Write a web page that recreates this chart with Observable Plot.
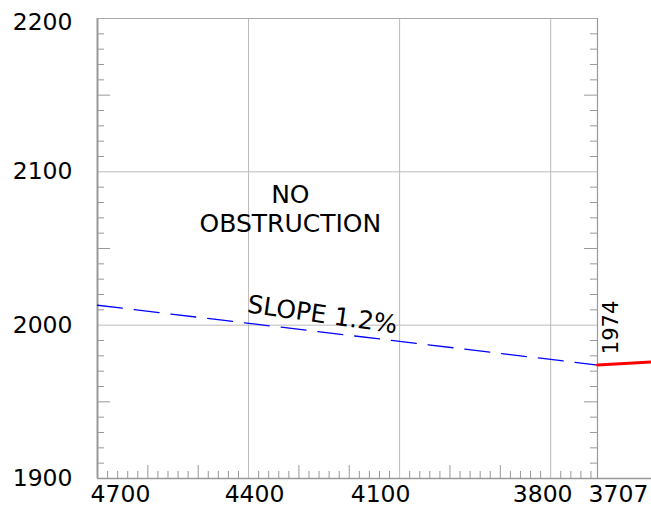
<!DOCTYPE html>
<html>
<head>
<meta charset="utf-8">
<script src="https://cdn.jsdelivr.net/npm/d3@7"></script>
<script src="https://cdn.jsdelivr.net/npm/@observablehq/plot@0.6"></script>
<style>
  html, body { margin: 0; padding: 0; background: #fff; }
  svg { display: block; }
</style>
</head>
<body>
<div id="chart"></div>
<script>
// ---- data ----
const xDomain = [4700, 3707];
const yDomain = [1900, 2200];
const xTickLabels = [4700, 4400, 4100, 3800, 3707];
const yTickLabels = [2200, 2100, 2000, 1900];
const xGrid = [4400, 4100, 3800];
const yGrid = [2100, 2000];
const slopeLine = [ {x: 4700, y: 2013}, {x: 3707, y: 1974} ];
const existingLine = [ {x: 3707, y: 1974}, {x: 3600, y: 1976} ];
const annotations = [
  {x: 4317, y: 2076, text: "NO\nOBSTRUCTION", rotate: 0},
  {x: 4253, y: 2007.5, text: "SLOPE 1.2%", rotate: 8}
];
const yearLabel = {x: 3679, y: 1998.5, text: "1974"};

// minor / major tick values
const xMinor = d3.range(4680, 3707, -20).filter(v => v % 100 !== 0);
const xMajor = d3.range(4600, 3707, -100).filter(v => !xGrid.includes(v));
const yMinor = d3.range(1910, 2200, 10).filter(v => v % 50 !== 0);
const yMajor = [1950, 2050, 2150];

const W = 651, H = 510;
const mL = 97, mT = 18, mR = 54, mB = 32;
const fw = W - mL - mR, fh = H - mT - mB;
const axisColor = "#999";
const gridColor = "#bbb";
const font = "DejaVu Sans, Verdana, sans-serif";

// x label offsets (style)
const xLabelDx = [23, 6, -19, -8, 21];
const yLabelDy = [4, 0, 0, 0];

const marks = [];
// grid
marks.push(Plot.ruleX(xGrid, {x: d => d, stroke: gridColor, strokeWidth: 1}));
marks.push(Plot.ruleY(yGrid, {y: d => d, stroke: gridColor, strokeWidth: 1}));
// bottom ticks
marks.push(Plot.tickX(xMinor, {x: d => d, stroke: axisColor, insetTop: fh - 7}));
marks.push(Plot.tickX(xMajor, {x: d => d, stroke: axisColor, insetTop: fh - 13}));
// left ticks
marks.push(Plot.tickY(yMinor, {y: d => d, stroke: axisColor, insetRight: fw - 7}));
marks.push(Plot.tickY(yMajor, {y: d => d, stroke: axisColor, insetRight: fw - 13}));
// right ticks
marks.push(Plot.tickY(yMinor, {y: d => d, stroke: axisColor, insetLeft: fw - 7}));
marks.push(Plot.tickY(yMajor, {y: d => d, stroke: axisColor, insetLeft: fw - 13}));
// frame lines
marks.push(Plot.ruleY([2200], {stroke: "#aaa", strokeWidth: 1}));
marks.push(Plot.ruleX([3707], {stroke: axisColor, strokeWidth: 1.2}));
marks.push(Plot.ruleX([4700], {stroke: axisColor, strokeWidth: 2}));
marks.push(Plot.ruleY([1900], {x1: 4700, x2: 3590, stroke: axisColor, strokeWidth: 1.5}));
// data lines
marks.push(Plot.line(slopeLine, {x: "x", y: "y", stroke: "#0000ff", strokeWidth: 1.3, strokeDasharray: "25,12"}));
marks.push(Plot.line(existingLine, {x: "x", y: "y", stroke: "#ff0000", strokeWidth: 3}));
// annotations
for (const a of annotations) {
  marks.push(Plot.text([a], {x: "x", y: "y", text: "text", rotate: a.rotate, fontSize: 25, lineHeight: 1.16, fill: "#000", fontFamily: font}));
}
marks.push(Plot.text([yearLabel], {x: "x", y: "y", text: "text", rotate: -90, fontSize: 21, fill: "#000", fontFamily: font}));
// tick labels
xTickLabels.forEach((v, i) => {
  marks.push(Plot.text([v], {x: d => d, frameAnchor: "bottom", dy: 23, dx: xLabelDx[i], text: d => String(d), fontSize: 23.5, fill: "#000", fontFamily: font}));
});
yTickLabels.forEach((v, i) => {
  marks.push(Plot.text([v], {y: d => d, frameAnchor: "left", dx: -25, dy: yLabelDy[i], textAnchor: "end", text: d => String(d), fontSize: 23.5, fill: "#000", fontFamily: font}));
});

const chart = Plot.plot({
  width: W,
  height: H,
  marginLeft: mL,
  marginTop: mT,
  marginRight: mR,
  marginBottom: mB,
  x: {domain: xDomain, axis: null},
  y: {domain: yDomain, axis: null},
  style: {fontFamily: font, background: "#fff", overflow: "visible"},
  marks
});
document.getElementById("chart").appendChild(chart);
</script>
</body>
</html>
